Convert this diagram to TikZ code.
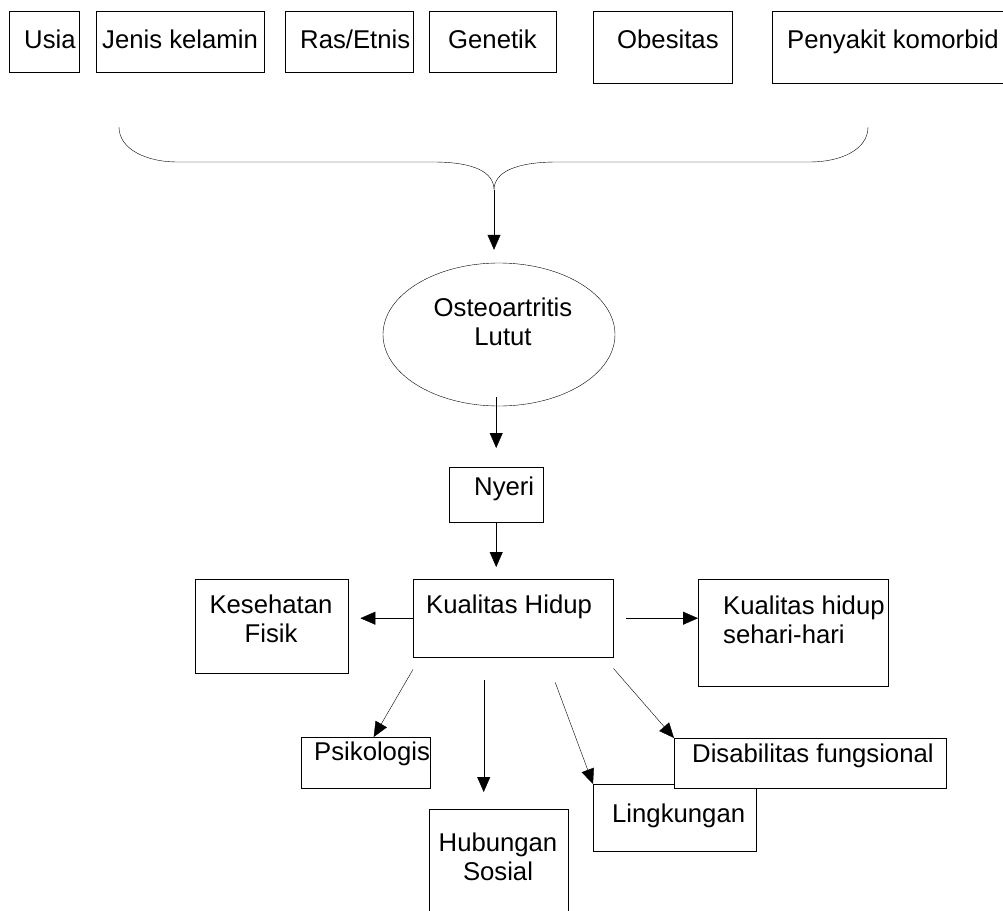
\documentclass[tikz,border=0pt]{standalone}
\usepackage{fontspec}
\setmainfont{Liberation Sans}
\usetikzlibrary{
  shapes.geometric, % Shape "ellipse"
  arrows.meta,
  calc,
}
\tikzset{
  font=\fontsize{25.7}{29}\selectfont,
  line width=1.7pt,
  my box/.style={
    draw,
    rectangle,
    inner sep=0pt,
    anchor=north west
  },
  my oval/.style={
    draw,
    ellipse,
    inner sep=0pt
  },
  my label/.style={
    inner sep=0pt,
    anchor=base west
  },
  my lines/.style={
    inner sep=0pt,
    anchor=base,   % baseline of the last line
    align=center
  },
  my arrow/.style={
    -{Triangle[length=15pt,width=13pt]}
  }
}

\begin{document}
\begin{tikzpicture}[x=1pt,y=-1pt]
\useasboundingbox (0,0) rectangle (1003,910);
% risk factors
\node[my box, minimum width=70,  minimum height=61] (usia) at (9,11)   {};
\node[my box, minimum width=168, minimum height=61] (jk)   at (96,11)  {};
\node[my box, minimum width=128, minimum height=61] (ras)  at (285,11) {};
\node[my box, minimum width=127, minimum height=61] (gen)  at (429,11) {};
\node[my box, minimum width=139, minimum height=72] (obe)  at (593,11) {};
\node[my box, minimum width=240, minimum height=72] (pk)   at (772,11) {};
\node[my label] (usia-t) at (24,48)  {Usia};
\node[my label] (jk-t)   at (102,48) {Jenis kelamin};
\node[my label] (ras-t)  at (300,48) {Ras/Etnis};
\node[my label] (gen-t)  at (448,48) {Genetik};
\node[my label] (obe-t)  at (617,48) {Obesitas};
\node[my label] (pk-t)   at (787,48) {Penyakit komorbid};
% brace
\coordinate (br-l) at (119,127);
\coordinate (br-r) at (868,127);
\coordinate (cusp) at (494,190);
\draw (br-l) .. controls (119,150) and (148,162) .. (177,162) -- (433,162)
      .. controls (474,162) and (494,172) .. (cusp)
      .. controls (494,172) and (516,162) .. (557,162) -- (810,162)
      .. controls (840,162) and (868,150) .. (br-r);
% disease
\node[my oval, minimum width=232, minimum height=143] (oa) at (499,334.5) {};
\node[my lines] (oa-t) at (503,345) {Osteoartritis\\Lutut};
\node[my box, minimum width=94, minimum height=55] (nyeri) at (449,467) {};
\node[my label] (nyeri-t) at (474,495) {Nyeri};
% quality of life
\node[my box, minimum width=200, minimum height=78]  (kh)  at (413,579) {};
\node[my box, minimum width=153, minimum height=94]  (kf)  at (195,579) {};
\node[my box, minimum width=190, minimum height=107] (khs) at (698,579) {};
\node[my box, minimum width=129, minimum height=51]  (psi) at (301,737) {};
\node[my box, minimum width=139, minimum height=120] (hs)  at (429,809) {};
\node[my box, minimum width=163, minimum height=67]  (ling) at (593,784) {};
\node[my box, minimum width=272, minimum height=50, fill=white] (dis) at (674,738) {};
\node[my label] (kh-t) at (426,613) {Kualitas Hidup};
\node[my lines] (kf-t) at (271,642) {Kesehatan\\Fisik};
\node[my lines, anchor=base west, align=left] (khs-t) at (723,643) {Kualitas hidup\\sehari-hari};
\node[my label] (psi-t)  at (314,760) {Psikologis};
\node[my lines] (hs-t)   at (498,880) {Hubungan\\Sosial};
\node[my label] (ling-t) at (612,822) {Lingkungan};
\node[my label] (dis-t)  at (692,762) {Disabilitas fungsional};
% connectors
\coordinate (hs-in) at ([xshift=-15pt]hs.north);
\draw[my arrow, shorten >=13pt] (cusp) -- (cusp |- oa.north);
\draw[my arrow, shorten <=-9pt, shorten >=19pt] (nyeri.north |- oa.south) -- (nyeri.north);
\draw[my arrow, shorten >=12pt] (nyeri.south) -- (nyeri.south |- kh.north);
\draw[my arrow, shorten >=12pt] (kh.west) -- (kf.east |- kh.west);
\draw[my arrow, shorten <=13pt] (kh.east) -- (khs.west |- kh.east);
\draw[my arrow] ([yshift=-12pt]kh.south west) -- ([xshift=8pt]psi.north);
\draw[my arrow, shorten <=23pt, shorten >=17pt] (kh.south -| hs-in) -- (hs-in);
\draw[my arrow] ([xshift=42pt,yshift=-25pt]kh.south) -- (ling.north west);
\draw[my arrow] ([yshift=-11pt]kh.south east) -- (dis.north west);
\end{tikzpicture}
\end{document}
